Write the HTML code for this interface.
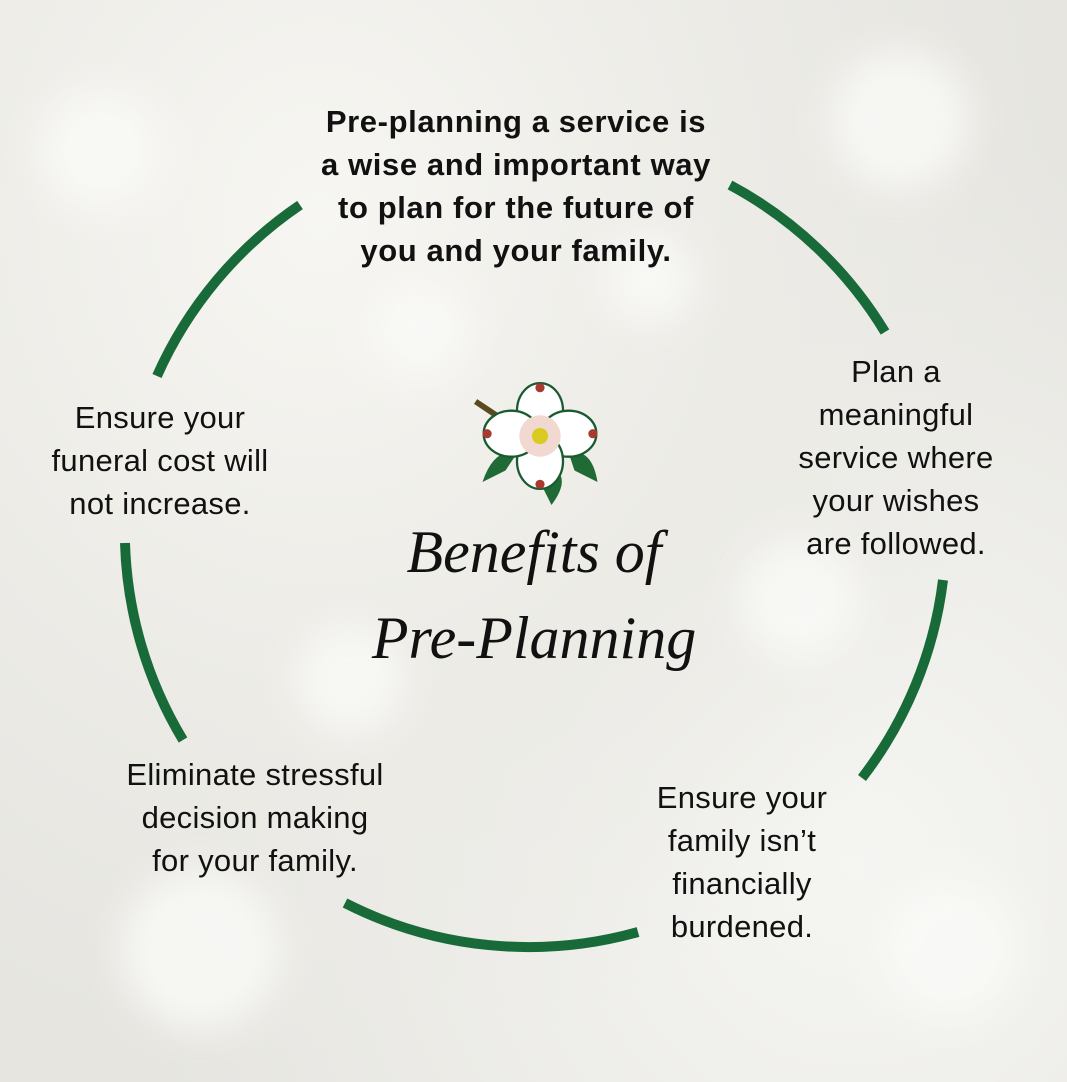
<!DOCTYPE html>
<html><head><meta charset="utf-8"><style>
html,body{margin:0;padding:0}
body{width:1067px;height:1082px;overflow:hidden;position:relative;
background:radial-gradient(ellipse at 30% 20%,#f7f6f2 0,#ecebe6 40%,transparent 70%),
radial-gradient(ellipse at 80% 80%,#f5f5f2 0,#e6e5e0 60%),#eae9e4;
font-family:"Liberation Sans",sans-serif;color:#111}
.t{position:absolute;text-align:center;font-size:31px;line-height:43px;letter-spacing:0.3px}
svg{position:absolute;left:0;top:0}
</style></head><body>
<svg width="1067" height="1082">
<defs><filter id="b"><feGaussianBlur stdDeviation="18"/></filter></defs>
<g filter="url(#b)" fill="#fafaf8" opacity=".8">
<circle cx="100" cy="150" r="60"/><circle cx="900" cy="120" r="70"/><circle cx="420" cy="330" r="50"/>
<circle cx="800" cy="600" r="60"/><circle cx="200" cy="950" r="80"/><circle cx="950" cy="950" r="70"/>
<circle cx="650" cy="280" r="45"/><circle cx="350" cy="680" r="55"/></g>
<g fill="none" stroke="#186b38" stroke-width="10">
<path d="M157 376 A405 405 0 0 1 300 205"/>
<path d="M730 185 A405 405 0 0 1 885 332"/>
<path d="M943 580 A405 405 0 0 1 862 778"/>
<path d="M638 932 A405 405 0 0 1 345 903"/>
<path d="M183 740 A405 405 0 0 1 125 543"/>
</g>
<g transform="translate(540,436) scale(1.15)">
<line x1="-56" y1="-30" x2="-38" y2="-18" stroke="#5a4a20" stroke-width="5"/>
<path d="M-30 30 L-50 40 Q-40 10 -20 15Z M30 30 L50 40 Q45 10 25 15Z M0 40 L10 60 Q25 40 15 30Z" fill="#1f6a35"/>
<g fill="#fff" stroke="#1a5a30" stroke-width="2">
<ellipse cx="0" cy="-22" rx="20" ry="24"/><ellipse cx="25" cy="-2" rx="24" ry="20"/>
<ellipse cx="0" cy="22" rx="20" ry="24"/><ellipse cx="-25" cy="-2" rx="24" ry="20"/></g>
<circle r="18" fill="#f1d8d0"/><circle r="7" fill="#d8cc20"/>
<circle cx="0" cy="-42" r="4" fill="#a83a30"/><circle cx="46" cy="-2" r="4" fill="#a83a30"/>
<circle cx="0" cy="42" r="4" fill="#a83a30"/><circle cx="-46" cy="-2" r="4" fill="#a83a30"/>
</g>
</svg>
<div class="t" style="left:266px;top:100px;width:500px;font-weight:bold;font-size:31px;letter-spacing:0.6px">Pre-planning a service is<br>a wise and important way<br>to plan for the future of<br>you and your family.</div>
<div class="t" style="left:746px;top:350px;width:300px">Plan a<br>meaningful<br>service where<br>your wishes<br>are followed.</div>
<div class="t" style="left:0px;top:396px;width:320px">Ensure your<br>funeral cost will<br>not increase.</div>
<div class="t" style="left:70px;top:753px;width:370px">Eliminate stressful<br>decision making<br>for your family.</div>
<div class="t" style="left:592px;top:776px;width:300px">Ensure your<br>family isn’t<br>financially<br>burdened.</div>
<div class="t" style="left:284px;top:509px;width:500px;font-family:'Liberation Serif',serif;font-style:italic;font-size:60px;line-height:86px;letter-spacing:0">Benefits of<br>Pre-Planning</div>
</body></html>
